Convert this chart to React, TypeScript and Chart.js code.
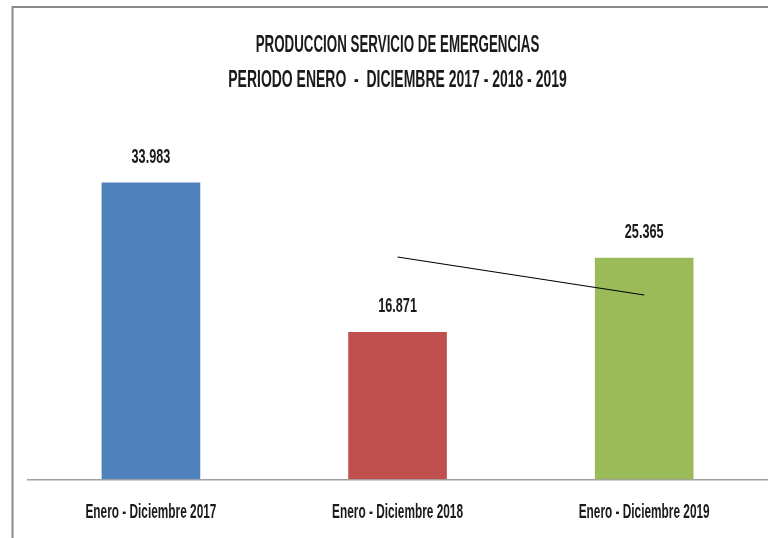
import React, { useEffect, useRef } from "react";
import { Chart, registerables } from "chart.js";

Chart.register(...registerables);

const categories = ["Enero - Diciembre 2017", "Enero - Diciembre 2018", "Enero - Diciembre 2019"];
const produccion = [33983, 16871, 25365];
const trendLine = [null, 25446, 21097];
const barColors = ["#4F81BD", "#C0504D", "#9BBB59"];
const titleLines = ["PRODUCCION SERVICIO DE EMERGENCIAS", "PERIODO ENERO  -  DICIEMBRE 2017 - 2018 - 2019"];

const FONT = '"Liberation Sans", Arial, sans-serif';

function fmt(v: number): string {
  return String(Math.round(v)).replace(/\B(?=(\d{3})+(?!\d))/g, ".");
}

function drawFit(ctx: CanvasRenderingContext2D, text: string, x: number, y: number, font: string, sx: number) {
  ctx.save();
  ctx.font = font;
  ctx.fillStyle = "#1a1a1a";
  ctx.textAlign = "center";
  ctx.textBaseline = "middle";
  ctx.translate(x, y);
  ctx.scale(sx, 1);
  ctx.fillText(text, 0, 0);
  ctx.restore();
}

const decorPlugin = {
  id: "decor",
  beforeDraw(chart: any) {
    const ctx = chart.ctx as CanvasRenderingContext2D;
    ctx.save();
    ctx.fillStyle = "#ffffff";
    ctx.fillRect(0, 0, chart.width, chart.height);
    ctx.strokeStyle = "#8a8a8a";
    ctx.lineWidth = 2;
    ctx.beginPath();
    ctx.moveTo(12.5, chart.height);
    ctx.lineTo(12.5, 7);
    ctx.lineTo(chart.width, 7);
    ctx.stroke();
    ctx.restore();
  },
  afterDraw(chart: any) {
    const ctx = chart.ctx as CanvasRenderingContext2D;
    drawFit(ctx, titleLines[0], 397.5, 45, `bold 24px ${FONT}`, 0.556);
    drawFit(ctx, titleLines[1], 397.5, 80, `bold 24px ${FONT}`, 0.582);
    const xScale = chart.scales.x;
    categories.forEach((c, i) => {
      drawFit(ctx, c, xScale.getPixelForValue(i), 513, `bold 19.5px ${FONT}`, 0.607);
    });
    const meta = chart.getDatasetMeta(1);
    meta.data.forEach((bar: any, i: number) => {
      drawFit(ctx, fmt(produccion[i]), bar.x, bar.y - 25, `bold 19.5px ${FONT}`, 0.65);
    });
  },
};

export default function App() {
  const ref = useRef<HTMLCanvasElement>(null);
  useEffect(() => {
    document.body.style.margin = "0";
    if (!ref.current) return;
    const chart = new Chart(ref.current, {
      type: "bar",
      data: {
        labels: categories,
        datasets: [
          {
            type: "line",
            data: trendLine as any,
            borderColor: "#000000",
            borderWidth: 1.2,
            pointRadius: 0,
            fill: false,
            order: 0,
          } as any,
          {
            type: "bar",
            data: produccion,
            backgroundColor: barColors,
            borderWidth: 0,
            categoryPercentage: 1,
            barPercentage: 0.4,
            order: 1,
          },
        ],
      },
      options: {
        responsive: false,
        animation: false,
        layout: { padding: { top: 129.9, bottom: 58.7, left: 27.6, right: 0.5 } },
        plugins: { legend: { display: false }, tooltip: { enabled: false }, title: { display: false } },
        scales: {
          x: {
            display: true,
            grid: { display: false, drawTicks: false },
            ticks: { display: false },
            border: { display: true, color: "#a0a0a0", width: 1.5 },
          },
          y: { display: false, min: 0, max: 40000 },
        },
      },
      plugins: [decorPlugin],
    });
    return () => chart.destroy();
  }, []);
  return <canvas ref={ref} width={768} height={538} style={{ display: "block" }} />;
}
